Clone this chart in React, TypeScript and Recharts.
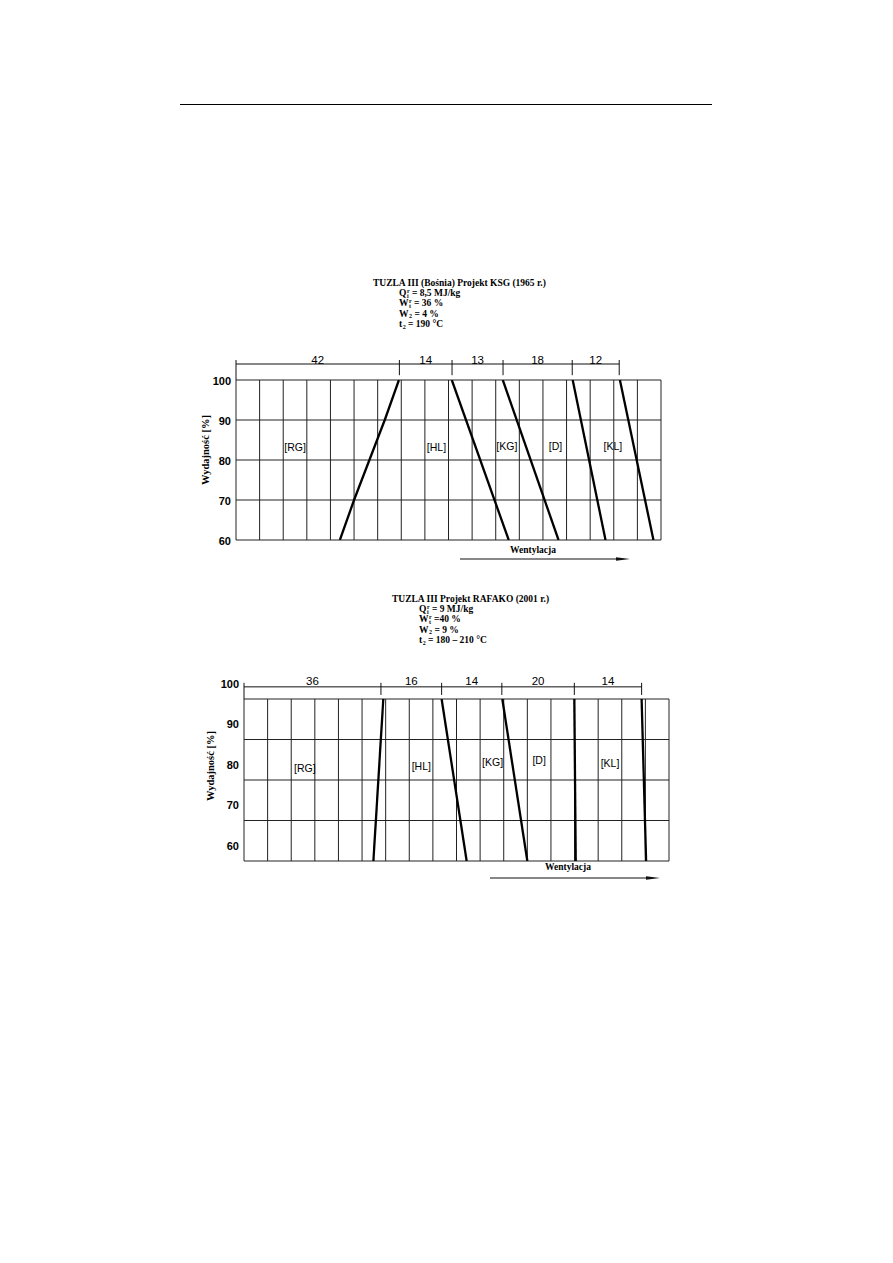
import React from 'react'
import { LineChart, Line, XAxis, YAxis, ReferenceLine, ReferenceDot } from 'recharts'

// shared axis setup: 18 grid columns, output 60..100 %
const yTicks = [60, 70, 80, 90, 100]
const gridCols = 18
const colTicks = Array.from({ length: gridCols + 1 }, (_, i) => i)

type Param = { sym: string; sup?: string; sub?: string; text: string }
type Pt = { x: number; y: number }

// --- TUZLA III, KSG 1965 ---
const ksgTitle = 'TUZLA III (Bośnia) Projekt KSG (1965 r.)'
const ksgParams: Param[] = [
  { sym: 'Q', sup: 'r', sub: 'i', text: ' = 8,5 MJ/kg' },
  { sym: 'W', sup: 'r', sub: 't', text: ' = 36 %' },
  { sym: 'W', sub: '2', text: ' = 4 %' },
  { sym: 't', sub: '2', text: ' = 190 °C' },
]
const ksgSpans = ['42', '14', '13', '18', '12']
const ksgBounds = [0, 6.92, 9.15, 11.31, 14.24, 16.23]
const ksgZones = ['[RG]', '[HL]', '[KG]', '[D]', '[KL]']
const ksgZoneX = [2.5, 8.49, 11.47, 13.53, 15.96]
const ksgZoneY = [83.3, 83.3, 83.5, 83.5, 83.5]
const ksgRgHl: Pt[] = [{ x: 4.4, y: 60 }, { x: 5.0, y: 70 }, { x: 5.65, y: 80 }, { x: 6.3, y: 90 }, { x: 6.9, y: 100 }]
const ksgHlKg: Pt[] = [{ x: 11.55, y: 60 }, { x: 9.14, y: 100 }]
const ksgKgD: Pt[] = [{ x: 13.66, y: 60 }, { x: 11.3, y: 100 }]
const ksgDKl: Pt[] = [{ x: 15.65, y: 60 }, { x: 14.26, y: 100 }]
const ksgKlEnd: Pt[] = [{ x: 17.68, y: 60 }, { x: 16.26, y: 100 }]

// --- TUZLA III, RAFAKO 2001 ---
const rafTitle = 'TUZLA III Projekt RAFAKO (2001 r.)'
const rafParams: Param[] = [
  { sym: 'Q', sup: 'r', sub: 'i', text: ' = 9 MJ/kg' },
  { sym: 'W', sup: 'r', sub: 't', text: ' =40 %' },
  { sym: 'W', sub: '2', text: ' = 9 %' },
  { sym: 't', sub: '2', text: ' = 180 – 210 °C' },
]
const rafSpans = ['36', '16', '14', '20', '14']
const rafBounds = [0, 5.8, 8.37, 10.92, 13.99, 16.84]
const rafZones = ['[RG]', '[HL]', '[KG]', '[D]', '[KL]']
const rafZoneX = [2.58, 7.51, 10.53, 12.5, 15.5]
const rafZoneY = [83.0, 83.5, 84.3, 84.8, 84.2]
const rafRgHl: Pt[] = [{ x: 5.48, y: 60 }, { x: 5.9, y: 100 }]
const rafHlKg: Pt[] = [{ x: 9.43, y: 60 }, { x: 8.37, y: 100 }]
const rafKgD: Pt[] = [{ x: 12.0, y: 60 }, { x: 10.94, y: 100 }]
const rafDKl: Pt[] = [{ x: 14.05, y: 60 }, { x: 13.99, y: 100 }]
const rafKlEnd: Pt[] = [{ x: 17.03, y: 60 }, { x: 16.84, y: 100 }]

const serif = '"Liberation Serif", "Times New Roman", serif'
const sans = '"Liberation Sans", Arial, sans-serif'
const ink = '#111'

function ParamLine({ p }: { p: Param }) {
  return (
    <span>
      {p.sym}
      <span style={{ display: 'inline-block', fontSize: 6, lineHeight: '5px', verticalAlign: 'middle', marginLeft: 0.5 }}>
        <span style={{ display: 'block' }}>{p.sup ?? '\u00a0'}</span>
        <span style={{ display: 'block' }}>{p.sub}</span>
      </span>
      {p.text}
    </span>
  )
}

function Heading({ x, y, subX, title, params }: { x: number; y: number; subX: number; title: string; params: Param[] }) {
  const txt = { position: 'absolute' as const, whiteSpace: 'nowrap' as const, fontFamily: serif, fontWeight: 'bold' as const, fontSize: 9.5, lineHeight: '10px', color: '#000' }
  return (
    <>
      <div style={{ ...txt, left: x, top: y - 5 }}>{title}</div>
      {params.map((p, i) => (
        <div key={i} style={{ ...txt, left: subX, top: y - 5 + (i + 1) * 10.2 }}><ParamLine p={p} /></div>
      ))}
    </>
  )
}

function Arrow({ x1, x2, y, label, labelX, labelY }: { x1: number; x2: number; y: number; label: string; labelX: number; labelY: number }) {
  return (
    <>
      <div style={{ position: 'absolute', left: labelX, top: labelY, transform: 'translate(-50%, -50%)', fontFamily: serif, fontWeight: 'bold', fontSize: 9.5, whiteSpace: 'nowrap' }}>{label}</div>
      <svg style={{ position: 'absolute', left: x1, top: y - 4 }} width={x2 - x1 + 2} height={8}>
        <line x1={0} y1={4} x2={x2 - x1 - 8} y2={4} stroke={ink} strokeWidth={1.2} />
        <polygon points={`${x2 - x1 - 14},2.3 ${x2 - x1},4 ${x2 - x1 - 14},5.7`} fill={ink} />
      </svg>
    </>
  )
}

type ChartProps = {
  left: number; top: number; height: number
  bounds: number[]; spans: string[]
  zones: string[]; zoneX: number[]; zoneY: number[]
  lines: Pt[][]
  dimY: number; numY: number; tickTop: number; tickBottom: number; tickDy: number
}

function ZoneChart(props: ChartProps) {
  const { bounds, spans, zones, zoneX, zoneY, lines, dimY, numY, tickTop, tickBottom, tickDy } = props
  const last = bounds[bounds.length - 1]
  return (
    <div style={{ position: 'absolute', left: props.left, top: props.top }}>
      <LineChart width={500} height={props.height} margin={{ top: 40, right: 19, bottom: 40, left: 26 }}>
        <XAxis type="number" dataKey="x" domain={[0, gridCols]} ticks={colTicks} hide allowDataOverflow />
        <YAxis
          type="number" domain={[60, 100]} ticks={yTicks} width={30} allowDataOverflow
          axisLine={false} tickLine={false} tickSize={0} tickMargin={5}
          tick={{ fontSize: 11, fill: '#000', fontFamily: sans, fontWeight: 'bold', dy: tickDy }}
        />
        {colTicks.map(c => (
          <ReferenceLine key={'v' + c} x={c} stroke="#222" strokeWidth={1} />
        ))}
        {yTicks.map(t => (
          <ReferenceLine key={'h' + t} y={t} stroke="#222" strokeWidth={1} />
        ))}

        {/* dimension line above the grid */}
        <ReferenceLine segment={[{ x: bounds[0], y: dimY }, { x: last, y: dimY }]} stroke={ink} strokeWidth={1} ifOverflow="visible" />
        {bounds.map((b, i) => (
          <ReferenceLine key={'d' + i} segment={[{ x: b, y: tickTop }, { x: b, y: i === 0 ? 100 : tickBottom }]} stroke={ink} strokeWidth={1} ifOverflow="visible" />
        ))}
        {spans.map((s, i) => (
          <ReferenceDot
            key={'s' + i} x={(bounds[i] + bounds[i + 1]) / 2} y={numY} r={0} fill="none" stroke="none" ifOverflow="visible"
            label={{ value: s, position: 'center', fill: '#000', fontSize: 11.5, fontFamily: sans }}
          />
        ))}

        {zones.map((z, i) => (
          <ReferenceDot
            key={'z' + i} x={zoneX[i]} y={zoneY[i]} r={0} fill="none" stroke="none" ifOverflow="visible"
            label={{ value: z, position: 'center', fill: '#000', fontSize: 10.5, fontFamily: sans }}
          />
        ))}

        {lines.map((pts, i) => (
          <Line key={'l' + i} data={pts} dataKey="y" type="linear" stroke="#000" strokeWidth={2.3}
            dot={false} activeDot={false} isAnimationActive={false} />
        ))}
      </LineChart>
    </div>
  )
}

function YTitle({ x, y }: { x: number; y: number }) {
  return (
    <div style={{ position: 'absolute', left: x, top: y, transform: 'translate(-50%, -50%) rotate(-90deg)', fontFamily: serif, fontWeight: 'bold', fontSize: 10.5, whiteSpace: 'nowrap' }}>
      Wydajność [%]
    </div>
  )
}

export default function App() {
  return (
    <div style={{ position: 'absolute', left: 0, top: 0, width: 893, height: 1263, background: '#fff' }}>
      <div style={{ position: 'absolute', left: 180, top: 104, width: 532, height: 1, background: '#000' }} />

      <Heading x={373} y={283} subX={399} title={ksgTitle} params={ksgParams} />
      <ZoneChart
        left={180} top={340} height={240}
        bounds={ksgBounds} spans={ksgSpans}
        zones={ksgZones} zoneX={ksgZoneX} zoneY={ksgZoneY}
        lines={[ksgRgHl, ksgHlKg, ksgKgD, ksgDKl, ksgKlEnd]}
        dimY={104} numY={105.1} tickTop={105} tickBottom={101.2} tickDy={1.5}
      />
      <YTitle x={205} y={450} />
      <Arrow x1={460} x2={630} y={559} label="Wentylacja" labelX={533} labelY={550} />

      <Heading x={392} y={599} subX={419} title={rafTitle} params={rafParams} />
      <ZoneChart
        left={188} top={659} height={242}
        bounds={rafBounds} spans={rafSpans}
        zones={rafZones} zoneX={rafZoneX} zoneY={rafZoneY}
        lines={[rafRgHl, rafHlKg, rafKgD, rafDKl, rafKlEnd]}
        dimY={103} numY={104.4} tickTop={104} tickBottom={101} tickDy={-15}
      />
      <YTitle x={210} y={766} />
      <Arrow x1={490} x2={660} y={878} label="Wentylacja" labelX={568} labelY={867} />
    </div>
  )
}
